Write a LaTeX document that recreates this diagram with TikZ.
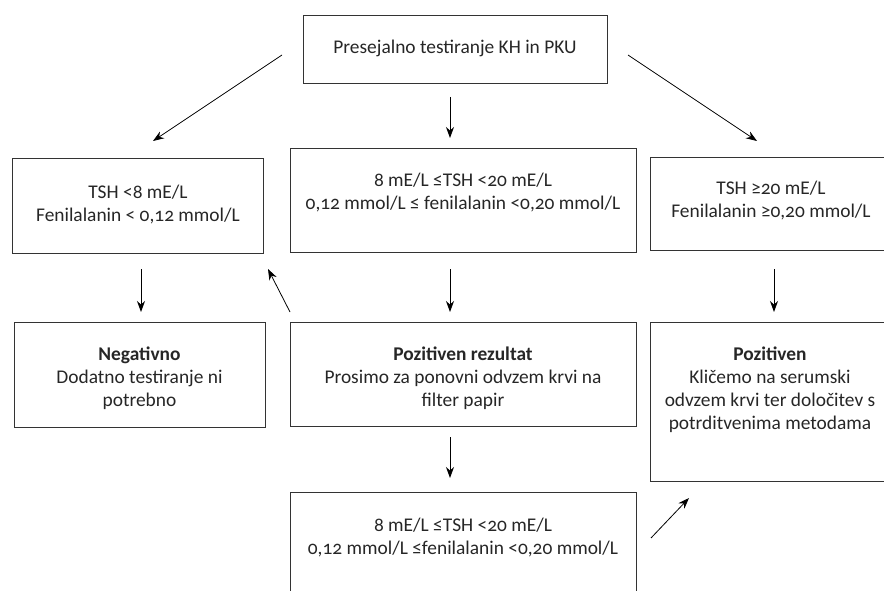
\documentclass[tikz,border=0pt]{standalone}
\usepackage{fontspec}
\setmainfont{Carlito}[Numbers=OldStyle]
\usetikzlibrary{arrows.meta}
\begin{document}
\begin{tikzpicture}[x=1pt,y=-1pt,
  box/.style={draw=black!80, line width=1.1pt, inner sep=0pt, anchor=north west},
  txt/.style={align=center, inner sep=0pt, anchor=base, text=black!85,
    font=\fontsize{19.4}{23}\selectfont},
  arr/.style={-{Stealth[length=11pt,width=8pt]}, line width=0.8pt, black}]
\useasboundingbox (0,0) rectangle (884,591);
\clip (0,0) rectangle (884,591);
% boxes
\node[box, minimum width=304pt, minimum height=68pt] (top) at (303,15) {};
\node[box, minimum width=251pt, minimum height=95pt] (lt) at (12,158) {};
\node[box, minimum width=346pt, minimum height=104pt] (mt) at (290,148) {};
\node[box, minimum width=244pt, minimum height=93pt] (rt) at (650,157) {};
\node[box, minimum width=251pt, minimum height=105pt] (lb) at (14,322) {};
\node[box, minimum width=346pt, minimum height=104pt] (mb) at (290,322) {};
\node[box, minimum width=244pt, minimum height=159pt] (rb) at (650,322) {};
\node[box, minimum width=346pt, minimum height=120pt] (bt) at (290,492) {};
% texts (anchor = baseline of last line)
\node[txt] (topt) at (455,54) {Presejalno testiranje KH in PKU};
\node[txt] (ltt) at (138,221) {TSH <8 mE/L\\Fenilalanin < 0,12 mmol/L};
\node[txt] (mtt) at (463,209) {8 mE/L ≤TSH <20 mE/L\\0,12 mmol/L ≤ fenilalanin <0,20 mmol/L};
\node[txt] (rtt) at (771,217) {TSH ≥20 mE/L\\Fenilalanin ≥0,20 mmol/L};
\node[txt] (lbt) at (139.5,406) {\textbf{Negativno}\\Dodatno testiranje ni\\potrebno};
\node[txt] (mbt) at (463,406) {\textbf{Pozitiven rezultat}\\Prosimo za ponovni odvzem krvi na\\filter papir};
\node[txt] (rbt) at (770,429) {\textbf{Pozitiven}\\Kličemo na serumski\\odvzem krvi ter določitev s\\potrditvenima metodama};
\node[txt] (btt) at (463,554) {8 mE/L ≤TSH <20 mE/L\\0,12 mmol/L ≤fenilalanin <0,20 mmol/L};
% arrow end points
\coordinate (a1s) at (282,55);  \coordinate (a1e) at (153,141);
\coordinate (a2s) at (450,97);  \coordinate (a2e) at (450,138);
\coordinate (a3s) at (628,55);  \coordinate (a3e) at (757,141);
\coordinate (a4s) at (141,269); \coordinate (a4e) at (141,312);
\coordinate (a5s) at (290,312); \coordinate (a5e) at (268,269);
\coordinate (a6s) at (450,269); \coordinate (a6e) at (450,312);
\coordinate (a7s) at (774,269); \coordinate (a7e) at (774,312);
\coordinate (a8s) at (450,437); \coordinate (a8e) at (450,478);
\coordinate (a9s) at (651,538); \coordinate (a9e) at (689,498);
\foreach \i in {1,...,9} {\draw[arr] (a\i s) -- (a\i e);}
\end{tikzpicture}
\end{document}
